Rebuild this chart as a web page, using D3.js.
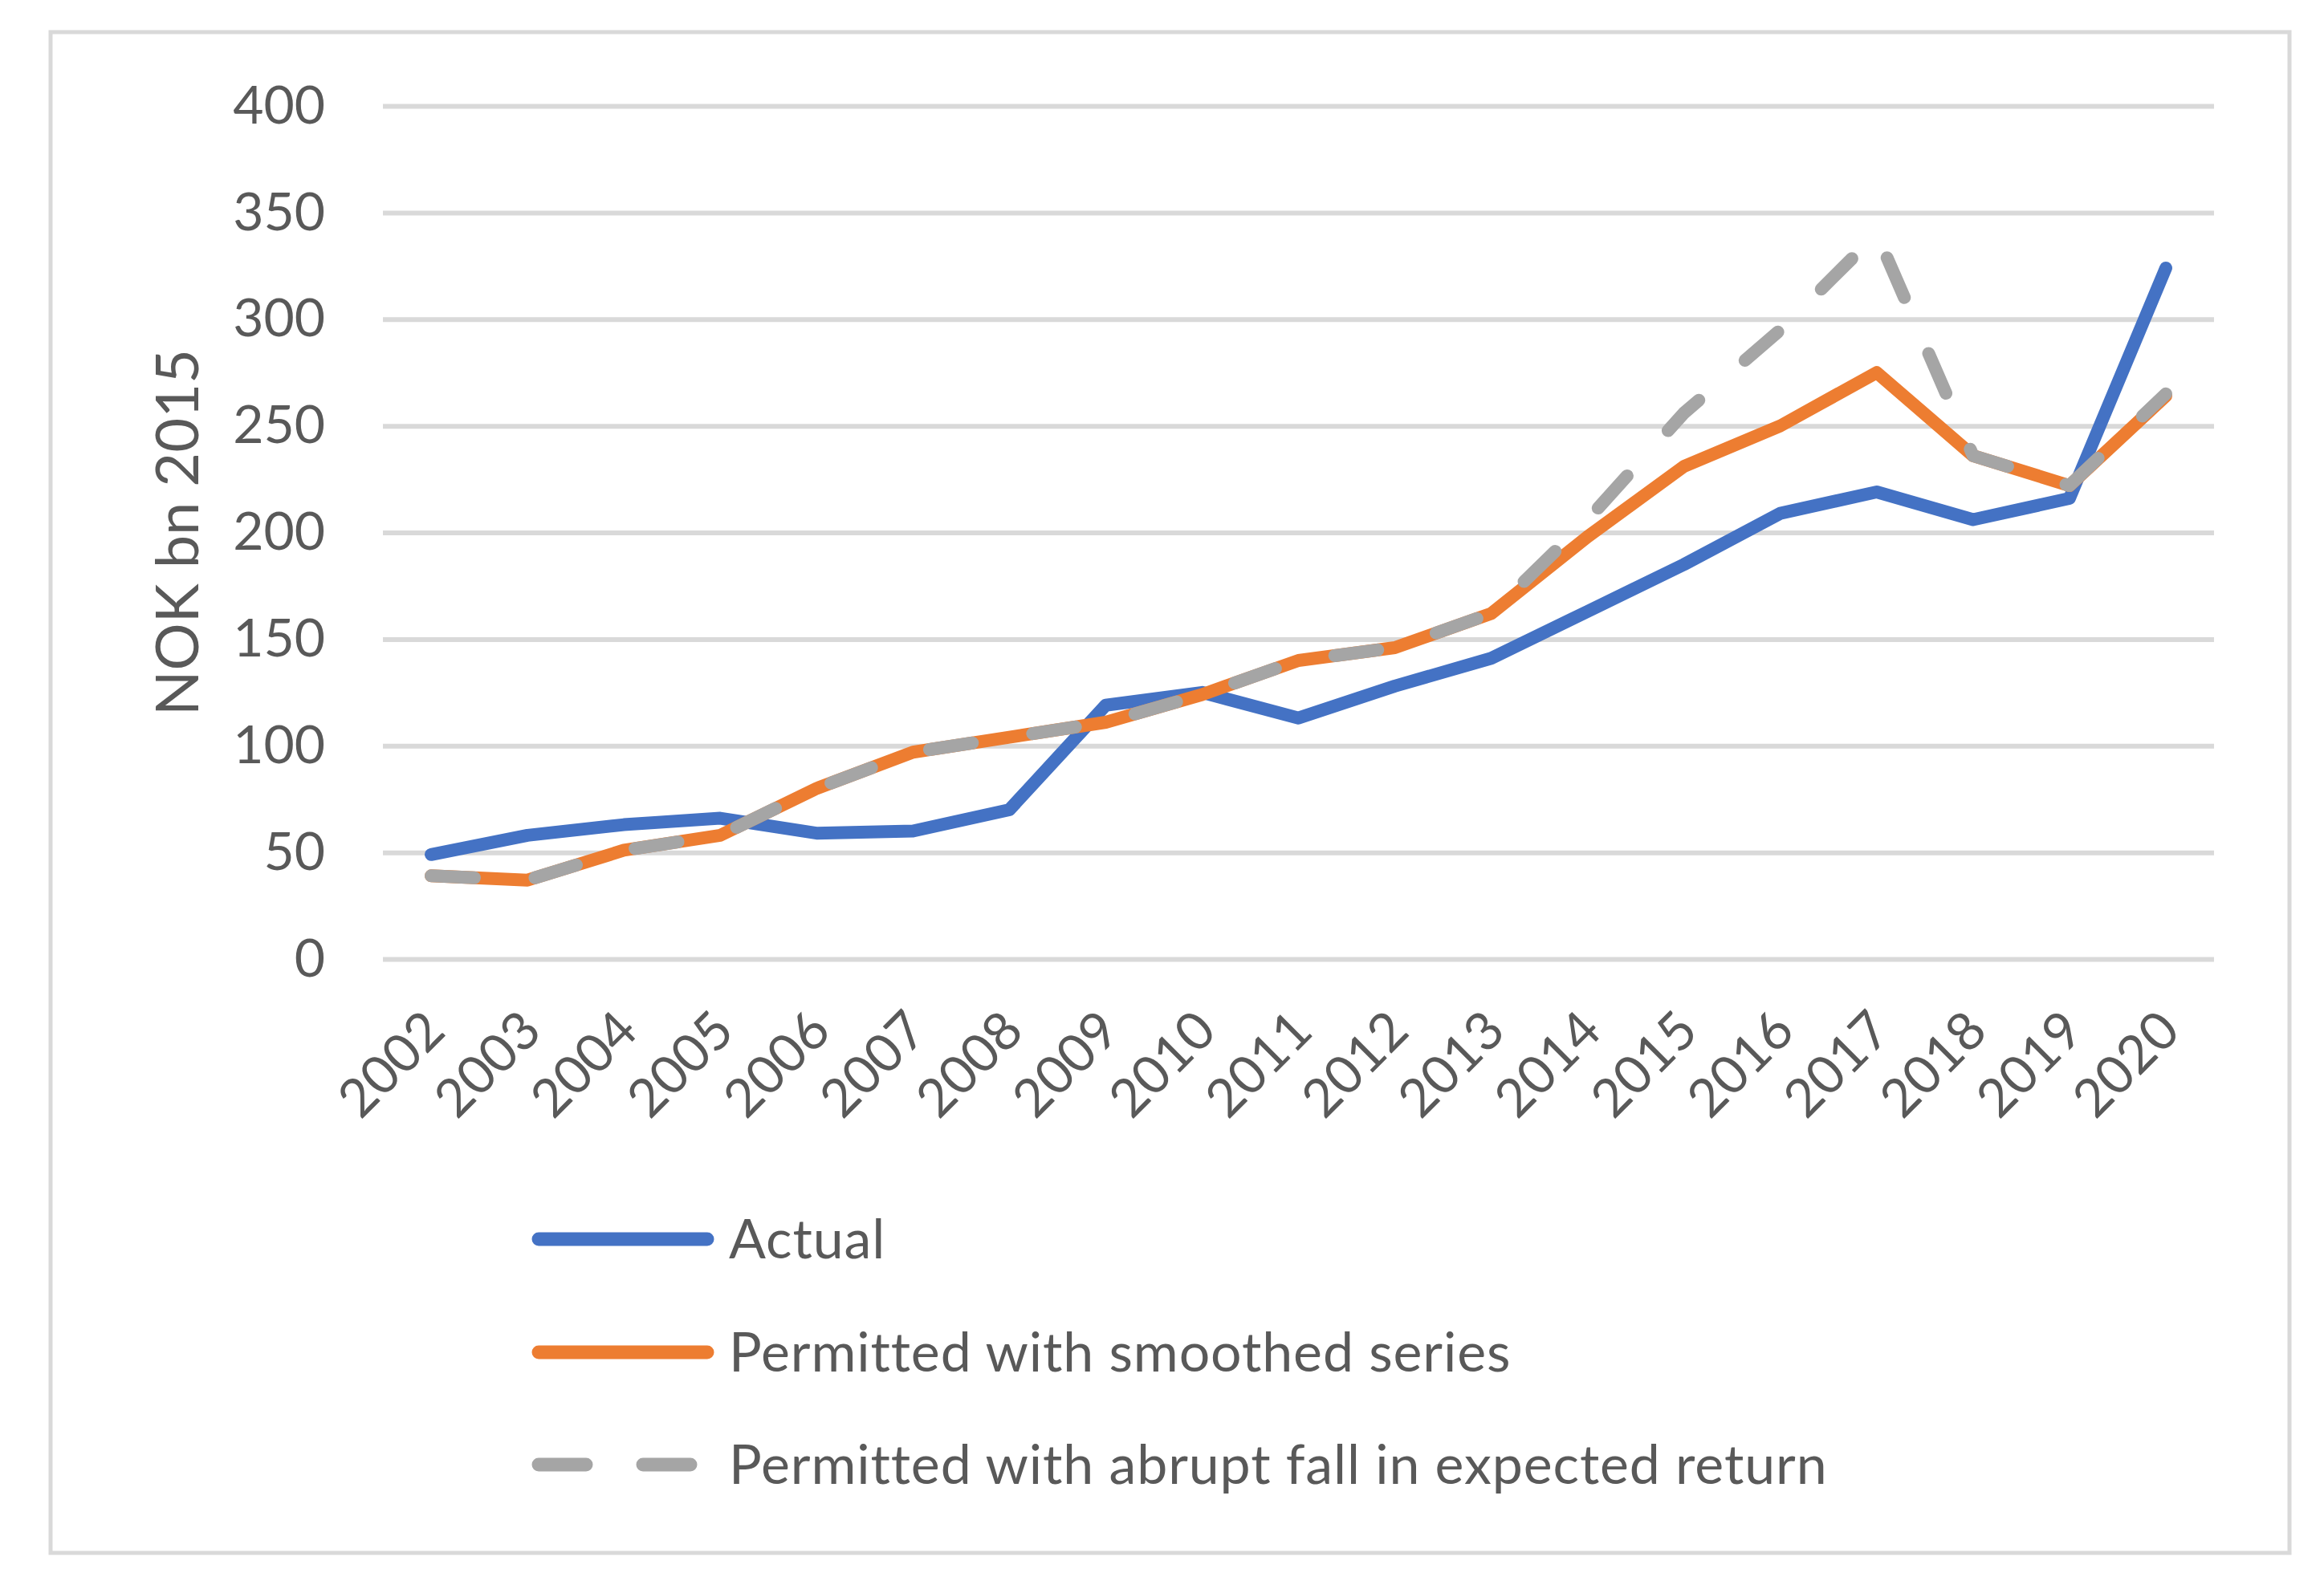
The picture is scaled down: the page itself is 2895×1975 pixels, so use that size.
<!DOCTYPE html>
<html>
<head>
<meta charset="utf-8">
<script src="https://cdn.jsdelivr.net/npm/d3@7"></script>
<style>
  body { margin: 0; background: #fff; }
  text { font-family: Lato, "Open Sans", sans-serif; fill: #595959; }
</style>
</head>
<body>
<svg id="chart" width="2895" height="1975"></svg>
<script>
// values, NOK bn 2015
const years = ['2002', '2003', '2004', '2005', '2006', '2007', '2008', '2009', '2010', '2011',
  '2012', '2013', '2014', '2015', '2016', '2017', '2018', '2019', '2020']
const actual = [49, 58, 63, 66, 59, 60, 70, 119, 125, 113, 128, 141, 163, 185, 209, 219, 206, 216, 324]
const smoothed = [39, 37, 51, 58, 80, 97, 104, 111, 124, 140, 146, 162, 198, 231, 250, 275, 236, 222, 264]
const abrupt = [39, 37, 51, 58, 80, 97, 104, 111, 124, 140, 146, 162, 206, 256, 295, 340, 236, 222, 265]
const yTicks = [0, 50, 100, 150, 200, 250, 300, 350, 400]
const seriesNames = ['Actual', 'Permitted with smoothed series', 'Permitted with abrupt fall in expected return']

const svg = d3.select('#chart')

// chart frame
svg.append('rect')
    .attr('x', 63).attr('y', 40)
    .attr('width', 2789).attr('height', 1895)
    .attr('fill', '#fff')
    .attr('stroke', '#d9d9d9')
    .attr('stroke-width', 5)

const plotLeft = 477
const plotRight = 2758
const plotTop = 132
const plotBottom = 1195

const x = d3.scalePoint().domain(years).range([plotLeft, plotRight]).padding(0.5)
const y = d3.scaleLinear().domain([0, 400]).range([plotBottom, plotTop])

// y axis with gridlines
const yAxis = svg.append('g')
    .attr('transform', 'translate(' + plotLeft + ',0)')
    .call(d3.axisLeft(y).tickValues(yTicks).tickSize(-(plotRight - plotLeft)).tickPadding(72))
yAxis.select('.domain').remove()
yAxis.selectAll('line').attr('stroke', '#d9d9d9').attr('stroke-width', 6)
yAxis.selectAll('text')
    .attr('font-size', 66)
    .attr('font-family', 'Lato, sans-serif')
    .attr('fill', '#595959')

// x axis labels, rotated
const xAxis = svg.append('g')
    .attr('transform', 'translate(0,' + plotBottom + ')')
    .call(d3.axisBottom(x).tickSize(0))
xAxis.select('.domain').remove()
xAxis.selectAll('text')
    .attr('font-size', 66)
    .attr('font-family', 'Lato, sans-serif')
    .attr('fill', '#595959')
    .attr('text-anchor', 'end')
    .attr('dy', 0)
    .attr('y', 0)
    .attr('transform', 'translate(20,93) rotate(-45)')

// y axis title
svg.append('text')
    .attr('transform', 'translate(247,' + (plotTop + plotBottom) / 2 + ') rotate(-90)')
    .attr('text-anchor', 'middle')
    .attr('font-size', 74)
    .text('NOK bn 2015')

const line = d3.line()
    .x((d, i) => x(years[i]))
    .y(d => y(d))

const series = [
  { name: seriesNames[0], values: actual, color: '#4472c4', dash: null },
  { name: seriesNames[1], values: smoothed, color: '#ed7d31', dash: null },
  { name: seriesNames[2], values: abrupt, color: '#a5a5a5', dash: '54,76' }
]

series.forEach(s => {
  svg.append('path')
      .datum(s.values)
      .attr('d', line)
      .attr('fill', 'none')
      .attr('stroke', s.color)
      .attr('stroke-width', 16)
      .attr('stroke-linecap', 'round')
      .attr('stroke-linejoin', 'round')
      .attr('stroke-dasharray', s.dash)
})

// legend
const legendY = [1544, 1685, 1825]
series.forEach((s, i) => {
  const g = svg.append('g').attr('transform', 'translate(0,' + legendY[i] + ')')
  g.append('line')
      .attr('x1', 671).attr('x2', 881)
      .attr('stroke', s.color)
      .attr('stroke-width', 17)
      .attr('stroke-linecap', 'round')
      .attr('stroke-dasharray', s.dash ? '59,71' : null)
  g.append('text')
      .attr('x', 908)
      .attr('y', 24)
      .attr('font-size', 68)
      .attr('letter-spacing', 0.9)
      .text(s.name)
})
</script>
</body>
</html>
